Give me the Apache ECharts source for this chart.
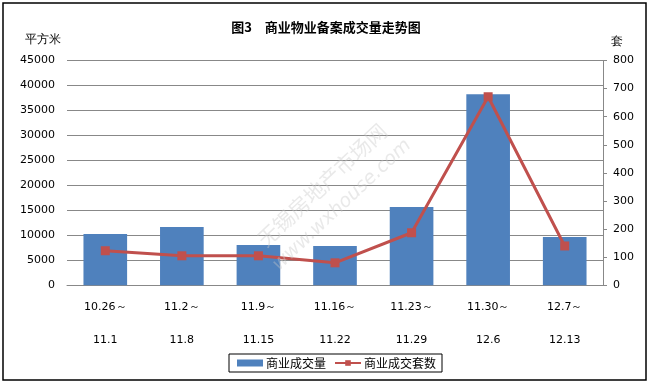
<!DOCTYPE html>
<html>
<head>
<meta charset="utf-8">
<script src="https://cdn.jsdelivr.net/npm/echarts@6/dist/echarts.min.js"></script>
<style>
html,body{margin:0;padding:0;background:#fff;}
#c{width:651px;height:384px;}
</style>
</head>
<body>
<div id="c"></div>
<script>
var categories = ['10.26～\n11.1','11.2～\n11.8','11.9～\n11.15','11.16～\n11.22','11.23～\n11.29','11.30～\n12.6','12.7～\n12.13'];
var areaValues = [10260, 11660, 8060, 7860, 15660, 38260, 9660];
var countValues = [123, 105, 105, 80, 187, 671, 140];
var leftTicks = {min: 0, max: 45000, interval: 5000};
var rightTicks = {min: 0, max: 800, interval: 100};

var numFont = 'DejaVu Sans';
var cjkFont = 'Noto Sans CJK SC';
function plain(v) { return String(v); }

var chart = echarts.init(document.getElementById('c'), null, {renderer: 'canvas'});
chart.setOption({
  backgroundColor: '#fff',
  animation: false,
  title: {
    text: '图3　商业物业备案成交量走势图',
    left: 321, top: 16, textAlign: 'center',
    textStyle: {fontSize: 13, fontWeight: 'bold', color: '#000', fontFamily: cjkFont}
  },
  grid: {left: 67, right: 48, top: 60.5, bottom: 98.7, containLabel: false},
  legend: {
    left: 229, top: 354, width: 210,
    padding: [3, 6, 3, 8],
    itemGap: 8,
    itemWidth: 26, itemHeight: 7,
    borderColor: '#000', borderWidth: 1,
    textStyle: {fontSize: 12, color: '#000', fontFamily: cjkFont, padding: [0,0,0,-2]},
    data: [{name: '商业成交量', icon: 'rect'}, {name: '商业成交套数'}]
  },
  xAxis: {
    type: 'category',
    data: categories,
    boundaryGap: true,
    axisLine: {lineStyle: {color: '#888', width: 1}},
    axisTick: {show: false},
    axisLabel: {margin: 5, lineHeight: 33, fontSize: 11, color: '#000', fontFamily: numFont, interval: 0}
  },
  yAxis: [{
    type: 'value', min: leftTicks.min, max: leftTicks.max, interval: leftTicks.interval,
    axisLine: {show: false}, axisTick: {show: false},
    splitLine: {lineStyle: {color: '#888', width: 1}},
    axisLabel: {margin: 12, fontSize: 11, color: '#000', fontFamily: numFont, formatter: plain}
  }, {
    type: 'value', min: rightTicks.min, max: rightTicks.max, interval: rightTicks.interval,
    position: 'right',
    axisLine: {show: true, lineStyle: {color: '#888', width: 1}},
    axisTick: {show: true, length: 4, lineStyle: {color: '#888'}},
    splitLine: {show: false},
    axisLabel: {margin: 10, fontSize: 11, color: '#000', fontFamily: numFont, formatter: plain}
  }],
  series: [{
    name: '商业成交量', type: 'bar', yAxisIndex: 0,
    data: areaValues, barWidth: '57%',
    itemStyle: {color: '#4F81BD'}
  }, {
    name: '商业成交套数', type: 'line', yAxisIndex: 1,
    data: countValues,
    symbol: 'rect', symbolSize: 9,
    lineStyle: {color: '#C0504D', width: 3},
    itemStyle: {color: '#C0504D'}
  }],
  graphic: [
    {type: 'rect', shape: {x: 3, y: 3, width: 643, height: 377}, style: {fill: 'none', stroke: '#000', lineWidth: 1.5}, z: 100},
    {type: 'text', left: 25, top: 34, style: {text: '平方米', fontSize: 12, fill: '#000', font: '12px "Noto Sans CJK SC"'}},
    {type: 'text', left: 611, top: 36, style: {text: '套', fontSize: 12, fill: '#000', font: '12px "Noto Sans CJK SC"'}},
    {type: 'text', x: 322, y: 185, rotation: Math.PI * 0.24, style: {text: '无锡房地产市场网', fill: 'rgba(200,200,200,0.4)', font: '21px "Noto Sans CJK SC"', textAlign: 'center', textVerticalAlign: 'middle'}, z: 50},
    {type: 'text', x: 342, y: 205, rotation: Math.PI * 0.24, style: {text: 'www.wxhouse.com', fill: 'rgba(200,200,200,0.4)', font: 'italic 19px "DejaVu Sans"', textAlign: 'center', textVerticalAlign: 'middle'}, z: 50}
  ]
});
</script>
</body>
</html>
